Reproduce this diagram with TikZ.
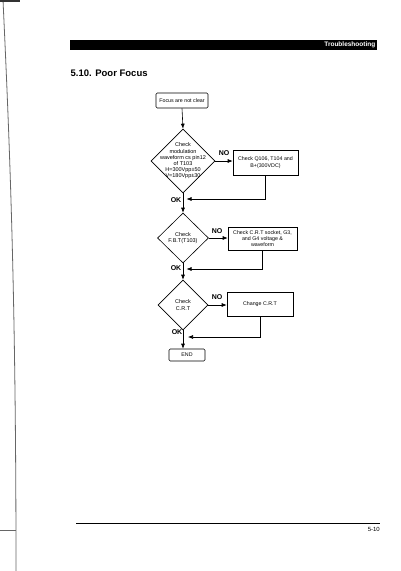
\documentclass[tikz,border=0pt]{standalone}
\usepackage{fontspec}
\setmainfont{Liberation Sans}
\usetikzlibrary{shapes.geometric,arrows.meta}
\begin{document}
\begin{tikzpicture}[x=1pt,y=-1pt,
 box/.style={draw, line width=0.6pt, inner sep=0pt, align=center, font=\fontsize{5.3}{6.3}\selectfont},
 dia/.style={draw, diamond, line width=0.6pt, inner sep=0pt},
 dtext/.style={align=center, font=\fontsize{5.5}{6.2}\selectfont, inner sep=0pt},
 lab/.style={font=\bfseries\fontsize{7}{8}\selectfont, inner sep=0pt},
 flow/.style={draw, line width=0.6pt, -{Latex[length=5pt,width=4pt]}},
 scan/.style={draw=black!60, line width=0.8pt},
]
\useasboundingbox[fill=white] (0,0) rectangle (400,571);

% scan edge
\draw[scan] (3,0) .. controls (10,150) and (16,300) .. (16,571);
\draw[scan] (0,530) -- (16,530);
\fill[black!80] (0,0) rectangle (20,2);

% header
\fill[black] (70,40) rectangle (377,50);
\node[anchor=east, text=white, font=\bfseries\fontsize{6.5}{7}\selectfont, inner sep=0pt] (hdr) at (375.5,45.3) {Troubleshooting};
\node[anchor=base west, font=\bfseries\fontsize{9.5}{11}\selectfont, inner sep=0pt] (title) at (70.5,76.7) {5.10. Poor Focus};

% flowchart
\node[box, rounded corners=1.2pt, minimum width=52pt, minimum height=15pt] (start) at (182,100.5) {Focus are not clear};

\node[dia, minimum width=64pt, minimum height=64pt] (d1) at (183,161) {};
\node[dtext] (d1t) at (183,161) {Check\\modulation\\waveform cs pin12\\of T103\\H=300Vpp±50\\V=180Vpp±30};
\node[box, minimum width=65pt, minimum height=25pt] (b1) at (265.5,162.5) {Check Q106, T104 and\\B+(300VDC)};

\node[dia, minimum width=51pt, minimum height=50pt] (d2) at (183,238) {};
\node[dtext] (d2t) at (183,238) {Check\\F.B.T(T103)};
\node[box, minimum width=69pt, minimum height=23pt] (b2) at (262.5,238.5) {Check C.R.T socket, G3,\\and G4 voltage \&\\waveform};

\node[dia, minimum width=50pt, minimum height=50pt] (d3) at (183,305) {};
\node[dtext] (d3t) at (183,305) {Check\\C.R.T};
\node[box, minimum width=66pt, minimum height=24pt] (b3) at (260,304) {Change C.R.T};

\node[box, rounded corners=1.2pt, minimum width=36pt, minimum height=12pt] (end) at (187,355) {END};

% connectors
\draw[flow] (start.south) -- (d1.north);
\draw[flow] (d1.east) -- (d1.east -| b1.west);
\draw[flow] (d1.south) -- (d2.north);
\coordinate (j1) at (183,199);
\draw[flow, shorten >=3.5pt] (b1.south) |- (j1);

\draw[flow] (d2.east) -- (d2.east -| b2.west);
\draw[flow] (d2.south) -- (d3.north);
\coordinate (j2) at (183,269);
\draw[flow, shorten >=3.5pt] (b2.south) |- (j2);

\draw[flow] (d3.east) -- (d3.east -| b3.west);
\draw[flow] (d3.south) -- (d3.south |- end.north);
\coordinate (j3) at (183,337);
\draw[flow, shorten >=5pt] (b3.south) |- (j3);

% labels
\node[lab] (no1) at (224,153) {NO};
\node[lab] (no2) at (217,231) {NO};
\node[lab] (no3) at (217,297.5) {NO};
\node[lab, anchor=east] (ok1) at (181.5,200) {OK};
\node[lab, anchor=east] (ok2) at (181.5,268.5) {OK};
\node[lab, anchor=east] (ok3) at (182.5,332.5) {OK};

% footer
\draw[line width=0.9pt] (76,523) -- (380,523);
\node[anchor=base east, font=\fontsize{6}{7}\selectfont, inner sep=0pt] (pg) at (380,531) {5-10};
\end{tikzpicture}
\end{document}
